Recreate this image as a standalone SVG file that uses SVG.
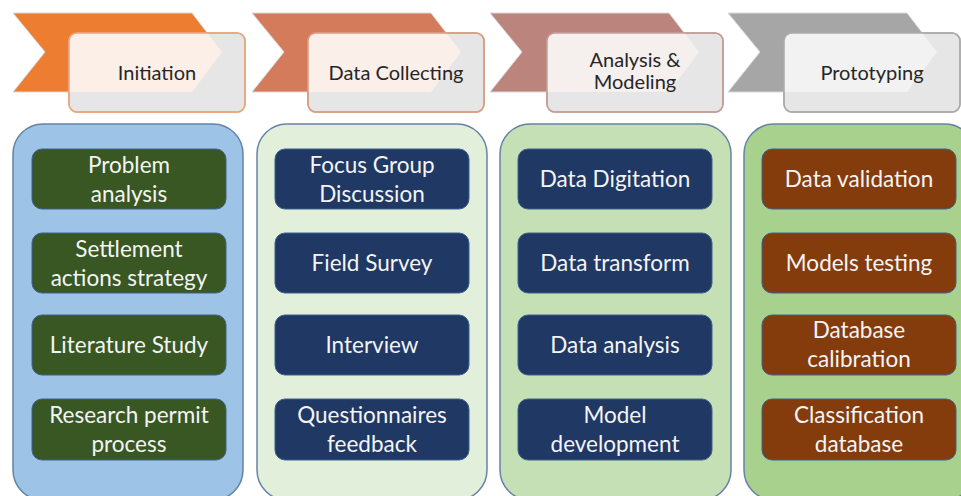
<svg xmlns="http://www.w3.org/2000/svg" width="961" height="496" viewBox="0 0 961 496">
<style>
.hdr{font-family:Lato,"Liberation Sans",sans-serif;font-size:20px;fill:#262626;text-anchor:middle}
.itm{font-family:Lato,"Liberation Sans",sans-serif;font-size:22.5px;fill:#f4f4f4;text-anchor:middle}
.hrect{fill:#e6e6e6;stroke-width:1.5}
.panel{stroke:#6582a8;stroke-width:1.5}
.box{stroke:#3f6190;stroke-width:1}
.chev{stroke:#d9d9d9;stroke-width:1}
</style>
<defs>
<polygon id="chev" points="0,13 179,13 209,52 179,92 0,92 32,52"/>
<clipPath id="c1"><rect x="69" y="33" width="176" height="79" rx="8"/></clipPath>
<clipPath id="c2"><rect x="308" y="33" width="176" height="79" rx="8"/></clipPath>
<clipPath id="c3"><rect x="547" y="33" width="176" height="79" rx="8"/></clipPath>
<clipPath id="c4"><rect x="784" y="33" width="176" height="79" rx="8"/></clipPath>
</defs>
<rect width="961" height="496" fill="#ffffff"/>

<g id="header-initiation">
<use href="#chev" x="13" fill="#ed7d31" class="chev"/>
<rect class="hrect" x="69" y="33" width="176" height="79" rx="8" stroke="#eaa47f"/>
<g clip-path="url(#c1)"><use href="#chev" x="13" fill="#fcefe8"/></g>
<rect x="69" y="33" width="176" height="79" rx="8" fill="none" stroke="#eaa47f" stroke-width="1.5"/>
<text class="hdr" x="157" y="80">Initiation</text>
</g>

<g id="header-data-collecting">
<use href="#chev" x="252" fill="#d47b5c" class="chev"/>
<rect class="hrect" x="308" y="33" width="176" height="79" rx="8" stroke="#d99c82"/>
<g clip-path="url(#c2)"><use href="#chev" x="252" fill="#fbefea"/></g>
<rect x="308" y="33" width="176" height="79" rx="8" fill="none" stroke="#d99c82" stroke-width="1.5"/>
<text class="hdr" x="396" y="80">Data Collecting</text>
</g>

<g id="header-analysis">
<use href="#chev" x="490" fill="#bb857e" class="chev"/>
<rect class="hrect" x="547" y="33" width="176" height="79" rx="8" stroke="#c49d98"/>
<g clip-path="url(#c3)"><use href="#chev" x="490" fill="#f5efee"/></g>
<rect x="547" y="33" width="176" height="79" rx="8" fill="none" stroke="#c49d98" stroke-width="1.5"/>
<text class="hdr" x="635" y="67">Analysis &amp;</text>
<text class="hdr" x="635" y="89">Modeling</text>
</g>

<g id="header-prototyping">
<use href="#chev" x="728" fill="#a6a6a6" class="chev"/>
<rect class="hrect" x="784" y="33" width="176" height="79" rx="8" stroke="#aaaaaa"/>
<g clip-path="url(#c4)"><use href="#chev" x="728" fill="#f2f2f2"/></g>
<rect x="784" y="33" width="176" height="79" rx="8" fill="none" stroke="#aaaaaa" stroke-width="1.5"/>
<text class="hdr" x="872" y="80">Prototyping</text>
</g>

<g id="panel-initiation">
<rect class="panel" x="13" y="124" width="230" height="376" rx="30" fill="#9dc3e6"/>
</g>
<g id="panel-data-collecting">
<rect class="panel" x="257" y="124" width="230" height="376" rx="30" fill="#e2efda"/>
</g>
<g id="panel-analysis">
<rect class="panel" x="500" y="124" width="231" height="376" rx="30" fill="#c5e0b4"/>
</g>
<g id="panel-prototyping">
<rect class="panel" x="744" y="124" width="231" height="376" rx="30" fill="#a9d18e"/>
</g>

<g id="item-problem-analysis">
<rect class="box" x="32" y="149" width="194" height="60" rx="10" fill="#385723"/>
<text class="itm" x="129" y="173">Problem</text>
<text class="itm" x="129" y="202">analysis</text>
</g>
<g id="item-settlement">
<rect class="box" x="32" y="233" width="194" height="60" rx="10" fill="#385723"/>
<text class="itm" x="129" y="257">Settlement</text>
<text class="itm" x="129" y="286">actions strategy</text>
</g>
<g id="item-literature">
<rect class="box" x="32" y="315" width="194" height="60" rx="10" fill="#385723"/>
<text class="itm" x="129" y="353">Literature Study</text>
</g>
<g id="item-research-permit">
<rect class="box" x="32" y="399" width="194" height="61" rx="10" fill="#385723"/>
<text class="itm" x="129" y="423">Research permit</text>
<text class="itm" x="129" y="452">process</text>
</g>

<g id="item-focus-group">
<rect class="box" x="275" y="149" width="194" height="60" rx="10" fill="#1f3864"/>
<text class="itm" x="372" y="173">Focus Group</text>
<text class="itm" x="372" y="202">Discussion</text>
</g>
<g id="item-field-survey">
<rect class="box" x="275" y="233" width="194" height="60" rx="10" fill="#1f3864"/>
<text class="itm" x="372" y="271">Field Survey</text>
</g>
<g id="item-interview">
<rect class="box" x="275" y="315" width="194" height="60" rx="10" fill="#1f3864"/>
<text class="itm" x="372" y="353">Interview</text>
</g>
<g id="item-questionnaires">
<rect class="box" x="275" y="399" width="194" height="61" rx="10" fill="#1f3864"/>
<text class="itm" x="372" y="423">Questionnaires</text>
<text class="itm" x="372" y="452">feedback</text>
</g>

<g id="item-data-digitation">
<rect class="box" x="518" y="149" width="194" height="60" rx="10" fill="#1f3864"/>
<text class="itm" x="615" y="187">Data Digitation</text>
</g>
<g id="item-data-transform">
<rect class="box" x="518" y="233" width="194" height="60" rx="10" fill="#1f3864"/>
<text class="itm" x="615" y="271">Data transform</text>
</g>
<g id="item-data-analysis">
<rect class="box" x="518" y="315" width="194" height="60" rx="10" fill="#1f3864"/>
<text class="itm" x="615" y="353">Data analysis</text>
</g>
<g id="item-model-development">
<rect class="box" x="518" y="399" width="194" height="61" rx="10" fill="#1f3864"/>
<text class="itm" x="615" y="423">Model</text>
<text class="itm" x="615" y="452">development</text>
</g>

<g id="item-data-validation">
<rect class="box" x="762" y="149" width="194" height="60" rx="10" fill="#843c0c"/>
<text class="itm" x="859" y="187">Data validation</text>
</g>
<g id="item-models-testing">
<rect class="box" x="762" y="233" width="194" height="60" rx="10" fill="#843c0c"/>
<text class="itm" x="859" y="271">Models testing</text>
</g>
<g id="item-database-calibration">
<rect class="box" x="762" y="315" width="194" height="60" rx="10" fill="#843c0c"/>
<text class="itm" x="859" y="338">Database</text>
<text class="itm" x="859" y="367">calibration</text>
</g>
<g id="item-classification-database">
<rect class="box" x="762" y="399" width="194" height="61" rx="10" fill="#843c0c"/>
<text class="itm" x="859" y="423">Classification</text>
<text class="itm" x="859" y="452">database</text>
</g>
</svg>
